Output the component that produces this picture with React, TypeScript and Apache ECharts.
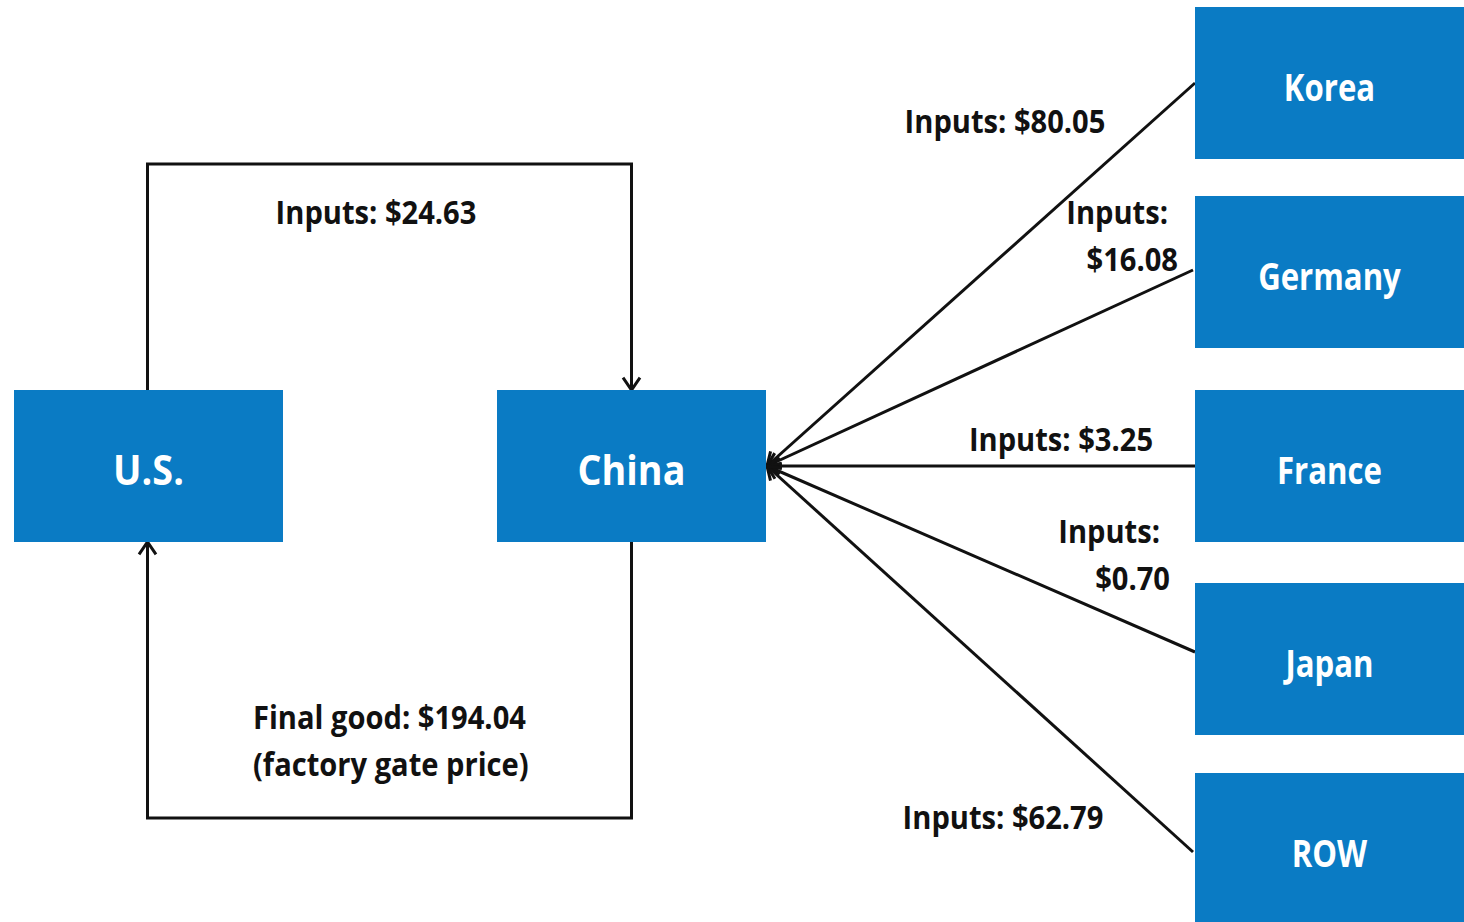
import React, { useEffect, useRef } from "react";
import * as echarts from "echarts";

// ---- data ----
const countries = ["Korea", "Germany", "France", "Japan", "ROW"];
const inputValues = [80.05, 16.08, 3.25, 0.7, 62.79];
const labelSplit = [false, true, false, true, false];
const usInputValue = 24.63;
const finalGoodValue = 194.04;
const hubNames = ["U.S.", "China"];

// ---- layout ----
const BLUE = "#0a7bc4";
const FONT = "'Open Sans', 'DejaVu Sans', sans-serif";
const BOX_W = 269;
const BOX_H = 152;
const hubX = [14, 497];
const hubY = 390;
const countryX = 1195;
const countryY = [7, 196, 390, 583, 773];
const sourceY = [83, 270, 466, 652, 852];
// [x line1, y line1, x line2, y line2, align]
const labelPos: [number, number, number, number, string][] = [
  [1005, 120, 0, 0, "center"],
  [1168, 211, 1178, 258, "right"],
  [1061, 438, 0, 0, "center"],
  [1160, 530, 1170, 577, "right"],
  [1003, 816, 0, 0, "center"],
];
const TIP_X = 767;
const TIP_Y = 466;
const LABEL_SCALE = 0.91;

function chevron(tx: number, ty: number, fx: number, fy: number, len = 15, ang = 0.6) {
  const dx = tx - fx;
  const dy = ty - fy;
  const a = Math.atan2(dy, dx);
  const p1 = [tx - len * Math.cos(a - ang), ty - len * Math.sin(a - ang)];
  const p2 = [tx - len * Math.cos(a + ang), ty - len * Math.sin(a + ang)];
  return {
    type: "polyline",
    shape: { points: [p1, [tx, ty], p2] },
    style: { stroke: "#111", lineWidth: 3, fill: "none" },
  };
}

function box(x: number, y: number, name: string, size: number, sx: number) {
  return [
    { type: "rect", shape: { x, y, width: BOX_W, height: BOX_H }, style: { fill: BLUE } },
    {
      type: "text",
      x: x + BOX_W / 2,
      y: y + BOX_H / 2 + 3,
      scaleX: sx,
      style: {
        text: name,
        fill: "#fff",
        font: `bold ${size}px ${FONT}`,
        align: "center",
        verticalAlign: "middle",
      },
    },
  ];
}

function label(x: number, y: number, text: string, align: string) {
  return {
    type: "text",
    x,
    y,
    scaleX: LABEL_SCALE,
    style: {
      text,
      fill: "#111",
      font: `bold 32px ${FONT}`,
      align,
      verticalAlign: "middle",
      lineHeight: 47,
    },
  };
}

export default function App() {
  const ref = useRef<HTMLDivElement>(null);
  useEffect(() => {
    if (!ref.current) return;
    const chart = echarts.init(ref.current, null, { renderer: "svg" });
    const els: any[] = [];
    const line = { stroke: "#111", lineWidth: 3, fill: "none" };
    const usCx = hubX[0] + BOX_W / 2 - 1;
    const chCx = hubX[1] + BOX_W / 2;
    // loops
    els.push({
      type: "polyline",
      shape: { points: [[usCx, hubY], [usCx, 164], [chCx, 164], [chCx, hubY]] },
      style: line,
    });
    els.push(chevron(chCx, hubY, chCx, 164));
    els.push({
      type: "polyline",
      shape: { points: [[chCx, hubY + BOX_H], [chCx, 818], [usCx, 818], [usCx, hubY + BOX_H]] },
      style: line,
    });
    els.push(chevron(usCx, hubY + BOX_H, usCx, 818));
    els.push(label(376, 211, `Inputs: $${usInputValue.toFixed(2)}`, "center"));
    els.push(
      label(253, 740, `Final good: $${finalGoodValue.toFixed(2)}\n(factory gate price)`, "left")
    );
    // fan
    countries.forEach((c, i) => {
      const sx = countryX - (i === 1 || i === 4 ? 2 : 0);
      const sy = sourceY[i];
      els.push({
        type: "line",
        shape: { x1: sx, y1: sy, x2: TIP_X, y2: TIP_Y },
        style: { stroke: "#111", lineWidth: 3 },
      });
      els.push(chevron(TIP_X, TIP_Y, sx, sy));
      const v = `$${inputValues[i].toFixed(2)}`;
      const [x1, y1, x2, y2, al] = labelPos[i];
      if (labelSplit[i]) {
        els.push(label(x1, y1, "Inputs:", al));
        els.push(label(x2, y2, v, al));
      } else {
        els.push(label(x1, y1, `Inputs: ${v}`, al));
      }
    });
    hubNames.forEach((n, i) => els.push(...box(hubX[i], hubY, n, 41, 0.92)));
    countries.forEach((c, i) => els.push(...box(countryX, countryY[i], c, 38, 0.82)));

    chart.setOption({ animation: false, graphic: { elements: els } });
    return () => chart.dispose();
  }, []);
  return (
    <div
      ref={ref}
      style={{ position: "absolute", left: 0, top: 0, width: 1464, height: 922, background: "#fff" }}
    />
  );
}
